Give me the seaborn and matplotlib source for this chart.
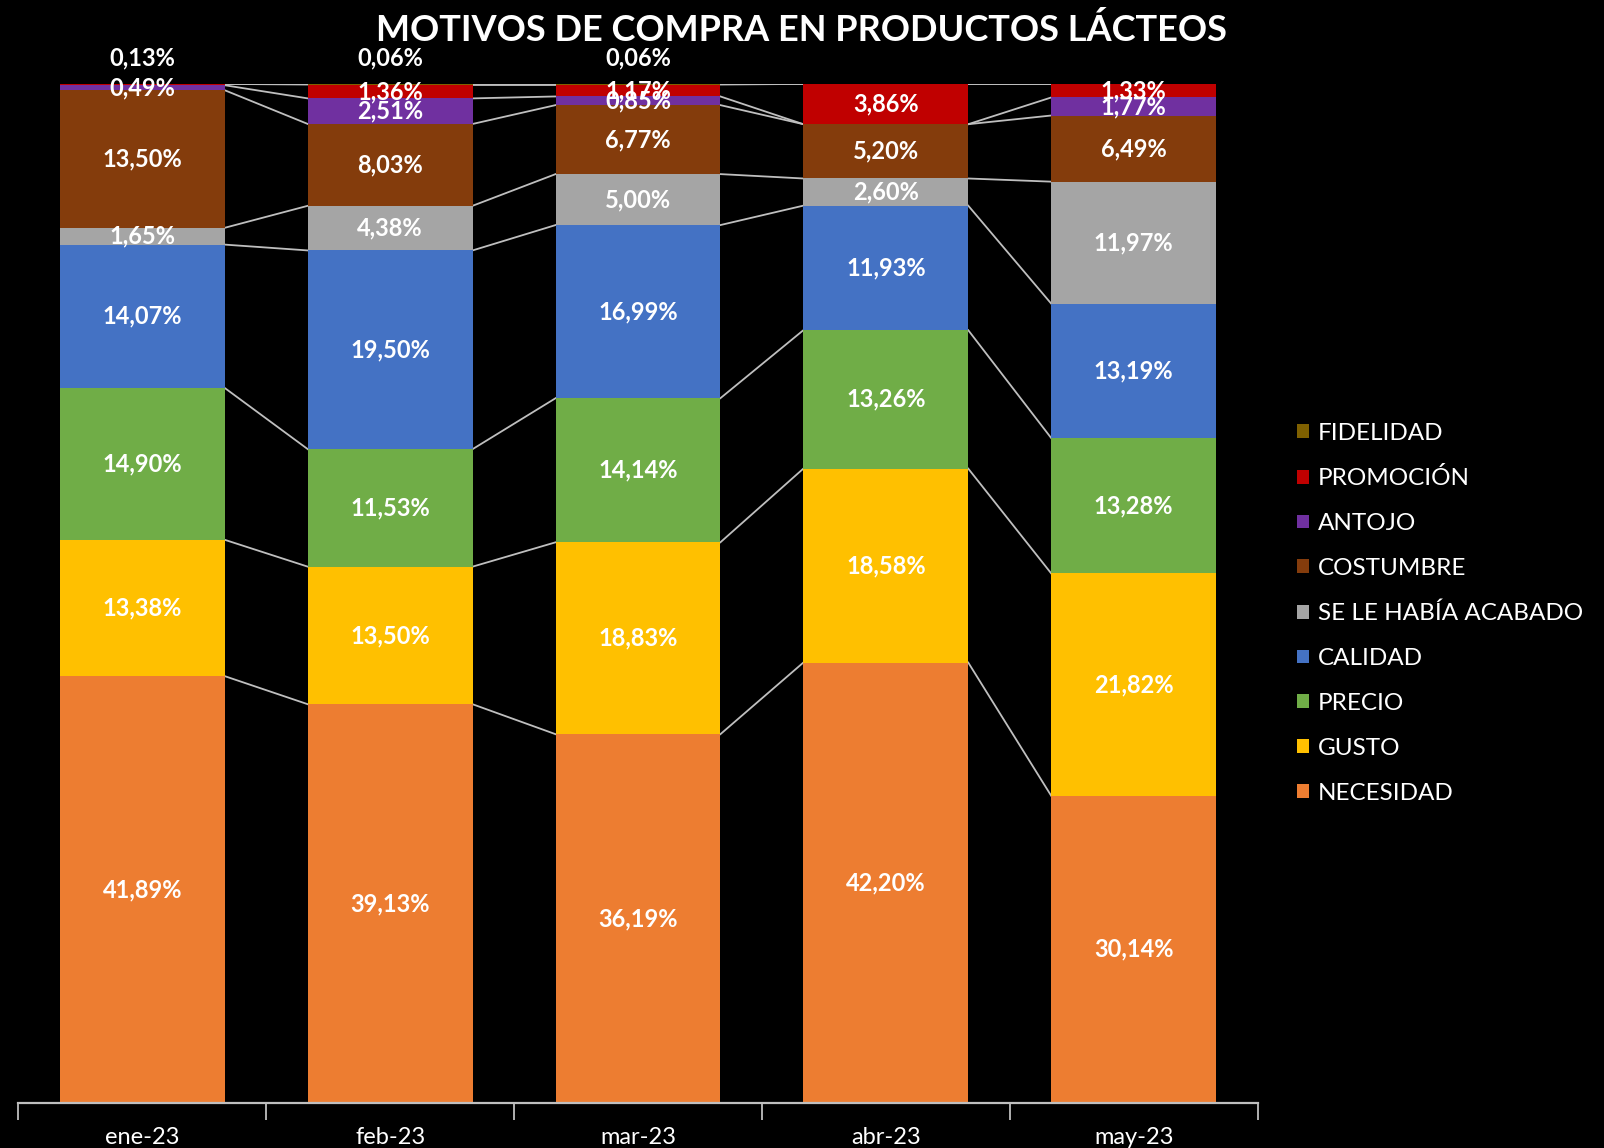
import matplotlib
matplotlib.use("Agg")
import matplotlib.pyplot as plt
from matplotlib.patches import Patch
import numpy as np
import pandas as pd
import seaborn as sns

# Data (bottom to top of each stacked bar)
months = ["ene-23", "feb-23", "mar-23", "abr-23", "may-23"]
motivos = ["NECESIDAD", "GUSTO", "PRECIO", "CALIDAD", "SE LE HABÍA ACABADO",
           "COSTUMBRE", "ANTOJO", "PROMOCIÓN", "FIDELIDAD"]
necesidad = [41.89, 39.13, 36.19, 42.20, 30.14]
gusto = [13.38, 13.50, 18.83, 18.58, 21.82]
precio = [14.90, 11.53, 14.14, 13.26, 13.28]
calidad = [14.07, 19.50, 16.99, 11.93, 13.19]
acabado = [1.65, 4.38, 5.00, 2.60, 11.97]
costumbre = [13.50, 8.03, 6.77, 5.20, 6.49]
antojo = [0.49, 2.51, 0.85, 0.0, 1.77]
promocion = [0.13, 1.36, 1.17, 3.86, 1.33]
fidelidad = [0.0, 0.06, 0.06, 0.0, 0.0]

colors = ["#ED7D31", "#FFC000", "#70AD47", "#4472C4", "#A5A5A5",
          "#843C0C", "#7030A0", "#C00000", "#7F6000"]

series = [necesidad, gusto, precio, calidad, acabado, costumbre, antojo, promocion, fidelidad]
raw = pd.DataFrame(np.array(series).T, index=months, columns=motivos)
# 100% stacked chart
share = raw.div(raw.sum(axis=1), axis=0) * 100
cum = share.cumsum(axis=1)

plt.rcParams["font.family"] = ["Lato", "DejaVu Sans"]

fig = plt.figure(figsize=(16.04, 11.48), dpi=100, facecolor="black")
ax = fig.add_axes([0.0115, 0.0392, 0.7725, 0.8877])
ax.set_facecolor("black")

width = 0.665
# stack by overlaying cumulative bars, topmost first
for i in range(len(motivos) - 1, -1, -1):
    df = pd.DataFrame({"mes": months, "valor": cum.iloc[:, i].values})
    sns.barplot(data=df, x="mes", y="valor", order=months, color=colors[i],
                width=width, saturation=1, ax=ax, linewidth=0, zorder=2)

# series lines between bars
for i in range(len(motivos)):
    for j in range(len(months) - 1):
        ax.plot([j + width / 2, j + 1 - width / 2],
                [cum.iloc[j, i], cum.iloc[j + 1, i]],
                color="#BFBFBF", lw=1.3, zorder=1)

# data labels
for j, m in enumerate(months):
    for i, mot in enumerate(motivos):
        v = raw.loc[m, mot]
        if v <= 0:
            continue
        mid = cum.iloc[j, i] - share.iloc[j, i] / 2
        if v < 0.3:
            y = 102.6
        else:
            y = mid
        txt = f"{v:.2f}%".replace(".", ",")
        ax.text(j, y, txt, ha="center", va="center", color="white",
                fontsize=17, fontweight="bold", zorder=5, clip_on=False)

ax.set_xlim(-0.5, len(months) - 0.5)
ax.set_ylim(0, 100)
ax.set_xlabel("")
ax.set_ylabel("")
ax.set_yticks([])
for s in ["top", "right", "left"]:
    ax.spines[s].set_visible(False)
ax.spines["bottom"].set_color("#BFBFBF")
ax.spines["bottom"].set_linewidth(1.6)
ax.set_xticks(range(len(months)))
ax.set_xticklabels(months, color="white", fontsize=17)
ax.tick_params(axis="x", which="major", length=0, pad=17)
ax.set_xticks(np.arange(-0.5, len(months)), minor=True)
ax.tick_params(axis="x", which="minor", length=12, width=1.3, color="#BFBFBF")

fig.text(0.5, 0.974, "MOTIVOS DE COMPRA EN PRODUCTOS LÁCTEOS", ha="center",
         va="center", color="white", fontsize=26, fontweight="bold")

handles = [Patch(facecolor=colors[i], label=motivos[i]) for i in range(len(motivos) - 1, -1, -1)]
leg = fig.legend(handles=handles, loc="center left", bbox_to_anchor=(0.795, 0.466),
                 frameon=False, fontsize=17.5, labelcolor="white",
                 handlelength=0.5, handleheight=0.5, handletextpad=0.35,
                 labelspacing=0.98)

fig.savefig("out.png", dpi=100, facecolor="black")
